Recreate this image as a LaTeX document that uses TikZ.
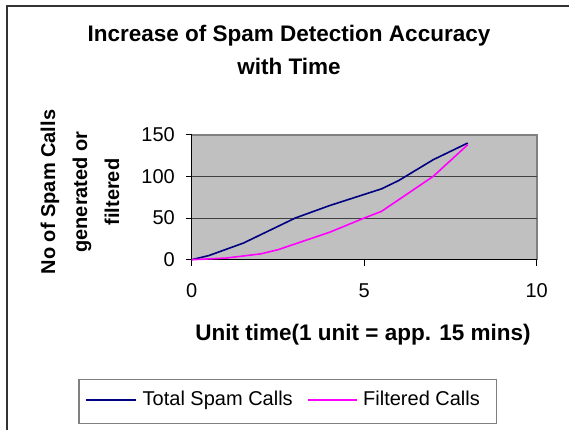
\documentclass[tikz,border=0pt]{standalone}
\usepackage{fontspec}
\setmainfont{Liberation Sans}
\usetikzlibrary{positioning}
\definecolor{totalc}{HTML}{000080}
\definecolor{filtc}{HTML}{FF00FF}
\definecolor{plotbg}{HTML}{C0C0C0}
\definecolor{framec}{HTML}{808080}
\begin{document}
\begin{tikzpicture}[x=1bp, y=-1bp,
        lbl/.style={font=\fontsize{20bp}{24bp}\selectfont, inner sep=0pt},
        bld/.style={font=\fontsize{22.5bp}{33bp}\selectfont\bfseries, inner sep=0pt, align=center},
        ser/.style={line width=1.6bp, line join=round}
      ]
      \useasboundingbox (0,0) rectangle (569,429);
      % outer frame (only top and left visible)
      \draw[line width=2bp, black!80] (6.5,440) -- (6.5,5.7) -- (580,5.7);
      % title
      \node[bld] (title) at (289,49.5) {Increase of Spam Detection Accuracy\\with Time};
      % y label
      \node[bld, font=\fontsize{20bp}{32bp}\selectfont\bfseries, rotate=90] (ylab) at (80,192) {No of Spam Calls\\generated or\\filtered};
      % plot area
      \begin{scope}[shift={(191.7,259.7)}, x=34.5bp, y=0.8333bp]
        \fill[plotbg] (0,0) rectangle (10,150);
        \draw[framec, line width=2bp] (0,150) -- (10,150) -- (10,0);
        \foreach \v in {50,100} {
          \draw[black!75, line width=0.8bp] (0,\v) -- (10,\v);
        }
        \draw[black, line width=1bp] (0,150) -- (0,0) -- (10,0);
        \foreach \v in {0,50,...,150} {
          \draw[black, line width=1bp] (0,\v) -- ++(-6bp,0);
          \node[lbl, anchor=east] (yt\v) at ([xshift=-16.7bp]0,\v) {\v};
        }
        \foreach \u in {0,5,10} {
          \draw[black, line width=1bp] (\u,0) -- ++(0,-6bp);
          \node[lbl, anchor=base] (xt\u) at ([yshift=-37.6bp]\u,0) {\u};
        }
        \draw[ser, totalc] plot coordinates {(0,0) (0.5,5) (1.5,20) (3,50) (4,65) (5.5,85) (6,95) (7,120) (8,140)};
        \draw[ser, filtc] plot coordinates {(0,0) (1,2) (2,7) (2.5,12) (4,33) (5,50) (5.5,58) (6,72) (7,100) (8,138)};
      \end{scope}
      % x label
      \node[bld, anchor=base] (xlab) at (363,340) {Unit time(1 unit = app. 15 mins)};
      % legend
      \draw[framec, line width=1.5bp] (79,379.7) rectangle (496.7,423.3);
      \coordinate (s1a) at (86.3,399.7);
      \coordinate (s1b) at (136,399.7);
      \coordinate (s2a) at (308,399.7);
      \coordinate (s2b) at (357,399.7);
      \draw[ser, totalc] (s1a) -- (s1b);
      \draw[ser, filtc] (s2a) -- (s2b);
      \node[lbl, anchor=base west] (leg1) at (142.5,405.7) {Total Spam Calls};
      \node[lbl, anchor=base west] (leg2) at (363,405.7) {Filtered Calls};
    \end{tikzpicture}
\end{document}
